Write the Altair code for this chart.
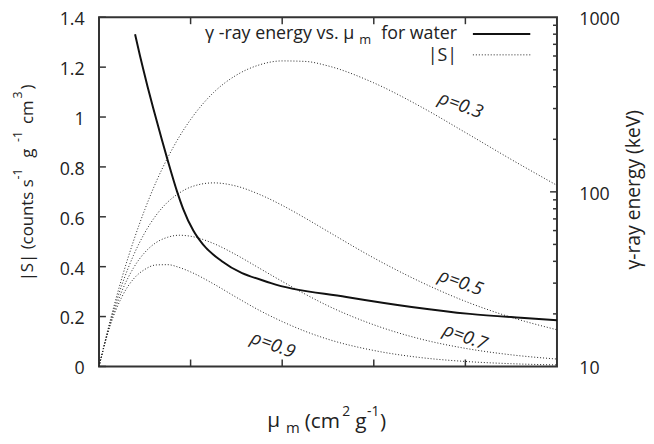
import altair as alt
import pandas as pd

# ---- data ----
mu = [0.0, 0.025, 0.05, 0.075, 0.1, 0.125, 0.15, 0.175, 0.2, 0.25, 0.3, 0.35,
      0.4, 0.45, 0.5, 0.6, 0.7, 0.8, 0.9, 1.0]
s_rho_03 = [0, 0.188, 0.355, 0.501, 0.629, 0.741, 0.837, 0.920, 0.990, 1.098, 1.168,
            1.209, 1.225, 1.223, 1.205, 1.137, 1.044, 0.938, 0.830, 0.726]
s_rho_05 = [0, 0.181, 0.327, 0.444, 0.536, 0.607, 0.659, 0.695, 0.719, 0.736, 0.723,
            0.690, 0.646, 0.595, 0.541, 0.435, 0.341, 0.261, 0.197, 0.147]
s_rho_07 = [0, 0.174, 0.302, 0.394, 0.457, 0.497, 0.518, 0.526, 0.522, 0.493, 0.447,
            0.394, 0.341, 0.290, 0.243, 0.167, 0.111, 0.0725, 0.0466, 0.0296]
s_rho_09 = [0, 0.167, 0.279, 0.350, 0.389, 0.407, 0.408, 0.397, 0.379, 0.331, 0.277,
            0.225, 0.180, 0.141, 0.109, 0.064, 0.036, 0.020, 0.011, 0.006]
rho_names = ["0.3", "0.5", "0.7", "0.9"]

water_mu = [0.0787, 0.0896, 0.0969, 0.1061, 0.1186, 0.1370, 0.1505, 0.1707, 0.1837,
            0.2059, 0.2269, 0.2683, 0.3756, 0.54, 0.8096, 0.921, 1.0]
water_kev = [800, 600, 500, 400, 300, 200, 150, 100, 80, 60, 50, 40, 30, 25, 20, 19,
             18.4]

label_mu = [0.79, 0.79, 0.80, 0.38]
label_s = [1.048, 0.337, 0.119, 0.087]
label_text = ["ρ=0.3", "ρ=0.5", "ρ=0.7", "ρ=0.9"]

x_ticks = [0, 0.2, 0.4, 0.6, 0.8, 1]
x_inner_ticks = [0.2, 0.4, 0.6, 0.8]
y_ticks = [0, 0.2, 0.4, 0.6, 0.8, 1, 1.2, 1.4]
e_major = [10, 100, 1000]
e_minor = [20, 30, 40, 50, 60, 70, 80, 90, 200, 300, 400, 500, 600, 700, 800, 900]

# ---- tables ----
rows = []
for name, series in zip(rho_names, [s_rho_03, s_rho_05, s_rho_07, s_rho_09]):
    for m, s in zip(mu, series):
        rows.append({"mu": m, "S": s, "rho": name})
s_df = pd.DataFrame(rows)
w_df = pd.DataFrame({"mu": water_mu, "kev": water_kev})
l_df = pd.DataFrame({"mu": label_mu, "S": label_s, "t": label_text})

FONT = "Open Sans"
INK = "#222222"
FRAME = "#333333"

x_scale = alt.Scale(domain=[0, 1], nice=False, zero=False)
y_scale = alt.Scale(domain=[0, 1.4], nice=False)
e_scale = alt.Scale(type="log", domain=[10, 1000], nice=False)

common_axis = dict(domain=False, ticks=False, tickSize=0, grid=False,
                   labelFont=FONT, labelFontSize=18, labelColor=INK,
                   titleFont=FONT, titleColor=INK, titleFontWeight="normal",
                   labelOverlap=False)

curves = alt.Chart(s_df).mark_line(
    strokeDash=[1, 2], strokeWidth=1, color=INK, interpolate="monotone", clip=True
).encode(
    x=alt.X("mu:Q", scale=x_scale,
            axis=alt.Axis(orient="bottom", values=x_ticks, title=None, format="~g",
                          labelPadding=14, labelFlush=False, **common_axis)),
    y=alt.Y("S:Q", scale=y_scale,
            axis=alt.Axis(orient="left", values=y_ticks, title=None, format="~g",
                          labelPadding=15, labelOffset=2.5, **common_axis)),
    detail="rho:N",
)

rho_labels = alt.Chart(l_df).mark_text(
    font=FONT, fontSize=18.5, fontStyle="italic", color=INK, angle=20,
    align="center", baseline="middle"
).encode(
    x=alt.X("mu:Q", scale=x_scale, axis=None),
    y=alt.Y("S:Q", scale=y_scale, axis=None),
    text="t:N",
)

water = alt.Chart(w_df).mark_line(
    color="#111111", strokeWidth=2, interpolate="monotone", clip=True
).encode(
    x=alt.X("mu:Q", scale=x_scale, axis=None),
    y=alt.Y("kev:Q", scale=e_scale,
            axis=alt.Axis(orient="right", values=e_major + e_minor,
                          labelExpr="(datum.value == 10 || datum.value == 100 || datum.value == 1000) ? format(datum.value, 'd') : ''",
                          labelPadding=22, labelOffset=2.5,
                          title="γ-ray energy (keV)", titleFontSize=19.5,
                          titleAngle=270, titleX=83, titleY=174,
                          titleAlign="center", titleBaseline="alphabetic",
                          **common_axis)),
)

# ---- inward ticks (gnuplot style) ----
tick_style = dict(color=FRAME, strokeWidth=1.5)
left_ticks = alt.Chart(pd.DataFrame({"v": y_ticks})).mark_rule(**tick_style).encode(
    y=alt.Y("v:Q", scale=y_scale, axis=None), x=alt.value(0), x2=alt.value(7))
bottom_ticks = alt.Chart(pd.DataFrame({"v": x_inner_ticks})).mark_rule(**tick_style).encode(
    x=alt.X("v:Q", scale=x_scale, axis=None), y=alt.value(353), y2=alt.value(346))
top_ticks = alt.Chart(pd.DataFrame({"v": x_inner_ticks})).mark_rule(**tick_style).encode(
    x=alt.X("v:Q", scale=x_scale, axis=None), y=alt.value(0), y2=alt.value(7))
right_major = alt.Chart(pd.DataFrame({"v": [100]})).mark_rule(**tick_style).encode(
    y=alt.Y("v:Q", scale=e_scale, axis=None), x=alt.value(463), x2=alt.value(456))
right_minor = alt.Chart(pd.DataFrame({"v": e_minor})).mark_rule(**tick_style).encode(
    y=alt.Y("v:Q", scale=e_scale, axis=None), x=alt.value(463), x2=alt.value(459))


def txt(s, x, y, size=18, align="left", baseline="alphabetic", angle=0):
    return alt.Chart(alt.Data(values=[{}])).mark_text(
        text=s, align=align, baseline=baseline, fontSize=size, font=FONT,
        color=INK, angle=angle
    ).encode(x=alt.value(x), y=alt.value(y))


# legend (gnuplot style: text then sample)
legend = [
    txt("γ -ray energy vs. μ", 258, 22, 18, "right"),
    txt("m", 275, 27, 13, "right"),
    txt("for water", 362, 22, 18, "right"),
    txt("|S|", 362, 44, 18, "right"),
    alt.Chart(alt.Data(values=[{}])).mark_rule(color="#111111", strokeWidth=2).encode(
        x=alt.value(378), x2=alt.value(436), y=alt.value(17)),
    alt.Chart(alt.Data(values=[{}])).mark_rule(color=INK, strokeWidth=1, strokeDash=[1, 2]).encode(
        x=alt.value(378), x2=alt.value(436), y=alt.value(38)),
]

# x-axis title with sub/superscripts
x_title = [
    txt("μ", 170, 414, 21),
    txt("m", 189, 420, 15),
    txt("(cm", 208, 415, 21),
    txt("2", 246, 403, 14),
    txt("g", 259, 415, 21),
    txt("-1", 271, 403, 14),
    txt(")", 284, 415, 21),
]

# left y-axis title (rotated, reading upwards)
y_title = [
    txt("|S| (counts s", -67, 267, 17, angle=270),
    txt("-1", -78, 164, 12.5, angle=270),
    txt("g", -67, 142, 17, angle=270),
    txt("-1", -78, 126, 12.5, angle=270),
    txt("cm", -67, 108, 17, angle=270),
    txt("3", -78, 82, 12.5, angle=270),
    txt(")", -67, 73, 17, angle=270),
]

chart = alt.layer(
    curves, rho_labels, water, left_ticks, bottom_ticks, top_ticks,
    right_major, right_minor, *legend, *x_title, *y_title
).resolve_scale(y="independent").properties(
    width=463, height=353,
    autosize=alt.AutoSizeParams(type="none"),
    padding={"left": 92, "top": 7, "right": 90, "bottom": 72},
).configure_view(stroke=FRAME, strokeWidth=2)

chart.save("out.html", embed_options={"renderer": "svg", "actions": False})
